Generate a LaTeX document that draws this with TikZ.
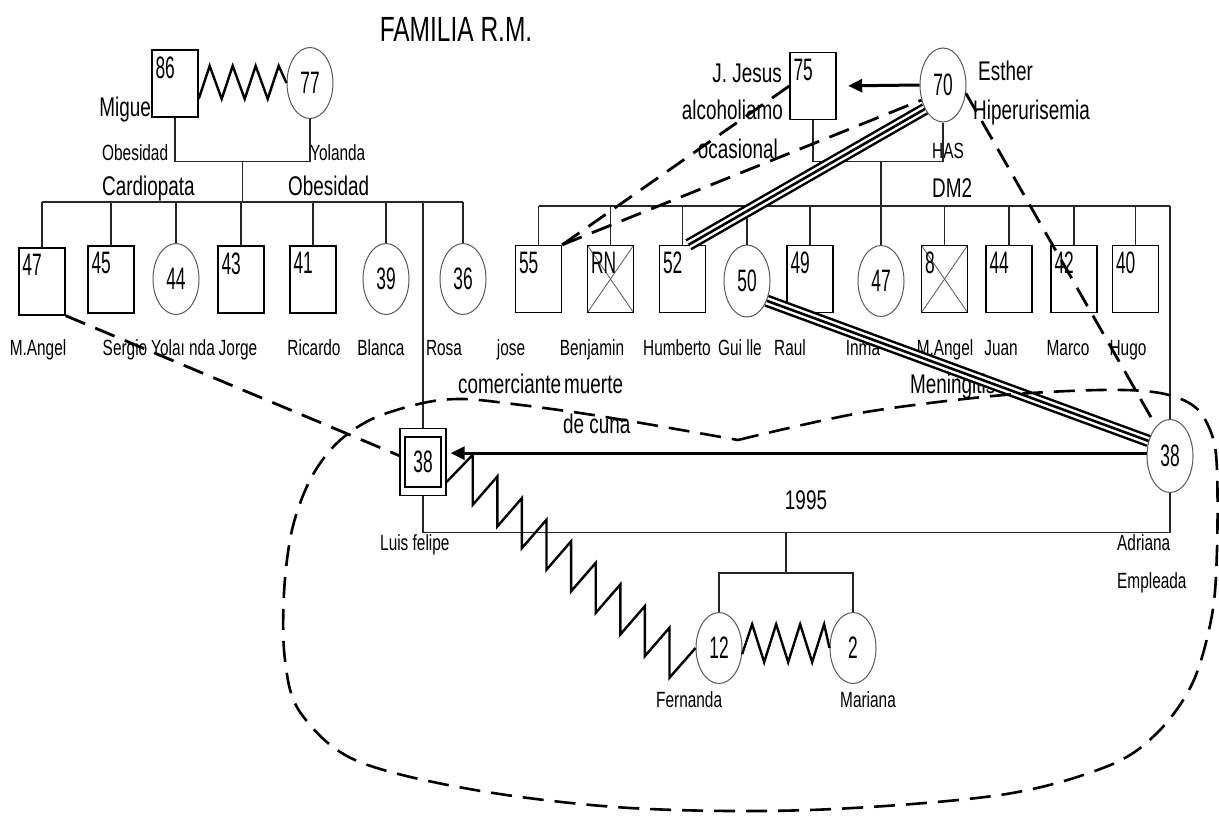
\documentclass[tikz,border=0pt]{standalone}
\usepackage{fontspec}
\setmainfont{Liberation Sans}[FakeStretch=0.7]
\newfontfamily\numfont{Liberation Sans}[FakeStretch=0.56]
\usetikzlibrary{shapes.geometric,arrows.meta,calc}

\tikzset{
  linea/.style={line width=1.3pt, black!85},
  hombre/.style={draw, line width=1.4pt, rectangle, minimum width=46pt, minimum height=67pt, inner sep=0pt, font=\numfont\fontsize{31}{31}\selectfont},
  mujer/.style={draw=black!65, line width=1pt, ellipse, minimum width=46pt, minimum height=71pt, inner sep=0pt, font=\numfont\fontsize{31}{31}\selectfont},
  edad/.style={label={[anchor=north west, inner sep=0pt, xshift=4pt, yshift=-7pt, font=\numfont\fontsize{31}{31}\selectfont]north west:#1}},
  muerto/.style={path picture={\draw[black!65, line width=0.8pt] (path picture bounding box.north west) -- (path picture bounding box.south east) (path picture bounding box.south west) -- (path picture bounding box.north east);}},
  nm/.style={inner sep=0pt, anchor=base, font=\fontsize{22}{24}\selectfont},
  big/.style={inner sep=0pt, anchor=base west, font=\fontsize{27}{30}\selectfont},
  zz/.style={line width=2.4pt, line join=miter},
  dsh/.style={line width=2.8pt, dash pattern=on 21pt off 11pt},
  tripleln/.style={preaction={draw, black, line width=12.5pt}, preaction={draw, white, line width=7.5pt}, line width=2.6pt},
  arr/.style={line width=3pt, -{Triangle[length=14pt, width=13pt]}},
}

\begin{document}
\begin{tikzpicture}[x=1pt, y=-1pt]
\path[use as bounding box, fill=white] (0,0) rectangle (1219,816);
\node[big, anchor=base, font=\fontsize{35}{38}\selectfont] (titulo) at (456,42) {FAMILIA R.M.};

% abuelos paternos
\node[hombre, edad=86] (abuelo) at (175,83.5) {};
\node[mujer] (abuela) at (310,83) {77};
\node[big, anchor=base east] (tabuelo) at (151,117) {Migue};
\node[nm, anchor=base west] (tabuelo2) at (102,160) {Obesidad};
\node[big] (tabuelo3) at (102,195) {Cardiopata};
\node[nm, anchor=base west] (tabuela) at (310,160) {Yolanda};
\node[big] (tabuela2) at (288,195) {Obesidad};

% abuelos maternos
\node[hombre, edad=75] (jj) at (813,86) {};
\node[mujer, minimum height=74pt] (esther) at (943,85) {70};
\node[big, anchor=base east] (tjj) at (782,82) {J. Jesus};
\node[big, anchor=base east] (tjj2) at (783,120) {alcoholiamo};
\node[big, anchor=base east] (tjj3) at (778,158) {ocasional};
\node[big] (testher) at (978,81) {Esther};
\node[big] (testher2) at (973,119) {Hiperurisemia};
\node[nm, anchor=base west] (testher3) at (932,158) {HAS};
\node[big] (testher4) at (932,197) {DM2};

% hijos Migue y Yolanda
\node[hombre, edad=47] (mangel) at (42,281.5) {};
\node[hombre, edad=45] (sergio) at (111,279.5) {};
\node[mujer] (yolanda) at (176,279) {44};
\node[hombre, edad=43] (jorge) at (241,279.5) {};
\node[hombre, edad=41] (ricardo) at (313,279.5) {};
\node[mujer] (blanca) at (386,279) {39};
\node[mujer] (rosa) at (463,279) {36};

% hijos J. Jesus y Esther
\node[hombre, edad=55] (jose) at (538.5,279) {};
\node[hombre, muerto, edad=RN] (benjamin) at (610.5,279) {};
\node[hombre, edad=52] (humberto) at (682.5,279) {};
\node[mujer, minimum height=72pt] (guille) at (747,281) {50};
\node[hombre, edad=49] (raul) at (810,279) {};
\node[mujer] (inma) at (881,281) {47};
\node[hombre, muerto, edad=8] (mangelb) at (944.5,279) {};
\node[hombre, edad=44] (juan) at (1009,279) {};
\node[hombre, edad=42] (marco) at (1074,279) {};
\node[hombre, edad=40] (hugo) at (1135.5,279) {};

% pareja y nietas
\node[hombre] (luis) at (423,462) {};
\node[draw, line width=1.4pt, minimum width=36pt, minimum height=50pt, inner sep=0pt, font=\numfont\fontsize{31}{31}\selectfont] (luisin) at (luis) {38};
\node[mujer, minimum height=73pt] (adriana) at (1170,456) {38};
\node[mujer] (fernanda) at (719,648) {12};
\node[mujer] (mariana) at (853,648) {2};

% nombres
\node[nm] (tmangel) at (38,355) {M.Angel};
\node[nm] (tsergio) at (125,355) {Sergio};
\node[nm] (tyolanda) at (183,355) {Yolaı nda};
\node[nm] (tjorge) at (238,355) {Jorge};
\node[nm] (tricardo) at (314,355) {Ricardo};
\node[nm] (tblanca) at (381,355) {Blanca};
\node[nm] (trosa) at (444,355) {Rosa};
\node[nm] (tjose) at (511,355) {jose};
\node[nm] (tbenjamin) at (592,355) {Benjamin};
\node[nm] (thumberto) at (677,355) {Humberto};
\node[nm] (tguille) at (740,355) {Gui lle};
\node[nm] (traul) at (790,355) {Raul};
\node[nm] (tinma) at (863,355) {Inma};
\node[nm] (tmangelb) at (945,355) {M.Angel};
\node[nm] (tjuan) at (1001,355) {Juan};
\node[nm] (tmarco) at (1068,355) {Marco};
\node[nm] (thugo) at (1128,355) {Hugo};
\node[big] (tjose2) at (458,393) {comerciante};
\node[big] (tbenjamin2) at (564,393) {muerte};
\node[big] (tbenjamin3) at (563,433) {de cuna};
\node[big] (tmangelb2) at (910,393) {Meningitis};
\node[nm, anchor=base west] (tluis) at (380,550) {Luis felipe};
\node[big, anchor=base] (tanio) at (806,509) {1995};
\node[nm, anchor=base west] (tadriana) at (1117,550) {Adriana};
\node[nm, anchor=base west] (tadriana2) at (1117,588) {Empleada};
\node[nm, anchor=base west] (tfernanda) at (656,707) {Fernanda};
\node[nm, anchor=base west] (tmariana) at (840,707) {Mariana};

% lineas de familia
\coordinate (hermL) at (0,202);
\coordinate (hermR) at (0,206);
\draw[linea] (abuelo.south) -- ++(0,44) coordinate (uL) -| (abuela.south);
\draw[linea] ($(uL)!.5!(uL -| abuela.south)$) coordinate (dL) -- (dL |- hermL);
\draw[linea] (mangel.north |- hermL) -- (rosa.north |- hermL);
\foreach \h in {mangel,sergio,yolanda,jorge,ricardo,blanca,rosa,luis}
  \draw[linea] (\h.north) -- (\h.north |- hermL);
\draw[linea] (jj.south) -- ++(0,41) coordinate (uR) -| (esther.south);
\draw[linea] (uR -| inma) -- (inma |- hermR);
\draw[linea] (jose.north |- hermR) -- (adriana.north |- hermR);
\foreach \h in {jose,benjamin,humberto,guille,raul,inma,mangelb,juan,marco,hugo,adriana}
  \draw[linea] (\h.north) -- (\h.north |- hermR);
\draw[linea] (luis.south) -- ++(0,36) coordinate (uP) -| (adriana.south);
\coordinate (dP) at (786,532);
\draw[linea] (dP) -- ++(0,41) coordinate (hP);
\draw[linea] (fernanda.north) |- (hP) -| (mariana.north);

% relaciones
\draw[zz] (abuelo.-33) \foreach \i in {1,2,3} { -- ++(11,-33) -- ++(12,33) } -- ++(11,-33) -- (abuela.west);
\draw[zz] (luis.-40) -- ++(26,-27) \foreach \i in {1,...,8} { -- ++(0,50) -- ++(24.6,-28.4) } -- ++(0,50) -- (fernanda.west);
\draw[zz] (fernanda.-15) -- ++(10,-30) \foreach \i in {1,2,3} { -- ++(12,38) -- ++(12,-38) } -- (mariana.west);
\draw[dsh] (mangel.south east) -- (luis.165);
\draw[dsh] (jose.north east) -- (jj.west);
\draw[dsh] (jose.north east) -- (esther.215);
\draw[dsh] (esther.-20) -- (adriana.115);
\draw[tripleln] (humberto.80) -- (esther.233);
\draw[tripleln] (guille.-45) -- (adriana.145);
\draw[arr, shorten >=11.5pt] (esther.west) -- (jj.east);
\draw[arr, shorten >=4pt] (adriana.173) -- (luis.east |- adriana.173);

% hogar
\draw[dsh, line width=2.6pt] plot[smooth, tension=0.55] coordinates {(738,440) (860,413) (993,396) (1100,390) (1160,393) (1195,407) (1212,435) (1217,470) (1217,550) (1212,615) (1193,682) (1158,732) (1108,766) (1000,795) (810,810) (630,808) (475,790) (355,760) (300,712) (285,660) (284,593) (292,530) (310,480) (336,444) (372,419) (423,403) (463,399) (513,404) (580,413) (647,424) (738,440)};
\end{tikzpicture}
\end{document}
